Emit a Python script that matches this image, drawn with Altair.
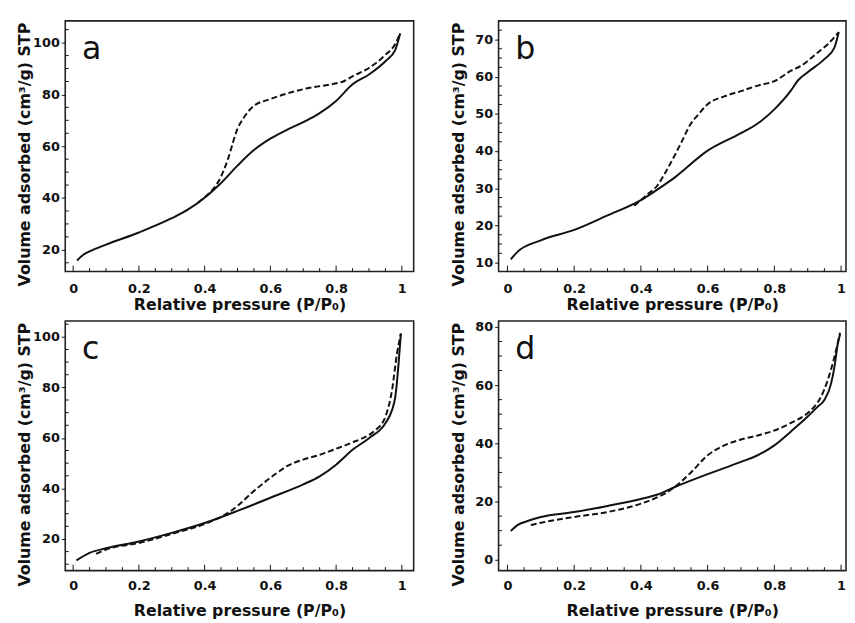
import altair as alt
import pandas as pd

# ---------------- data ----------------
letters = ["a", "b", "c", "d"]

a_ads_p = [0.012, 0.032, 0.05, 0.1, 0.2, 0.3, 0.35, 0.4, 0.45, 0.5, 0.55, 0.6, 0.65, 0.7, 0.75, 0.8, 0.85, 0.9, 0.95, 0.98, 0.995]
a_ads_v = [15.9, 18.2, 19.4, 22.0, 26.7, 32.2, 35.6, 40.1, 45.8, 52.5, 58.5, 62.9, 66.3, 69.3, 72.8, 77.5, 83.9, 87.7, 92.8, 97.2, 103.6]
a_des_p = [0.38, 0.4, 0.42, 0.45, 0.47, 0.5, 0.52, 0.55, 0.6, 0.7, 0.8, 0.82, 0.85, 0.9, 0.95, 0.98, 0.995]
a_des_v = [38.2, 40.3, 42.6, 48.3, 54.7, 66.7, 71.2, 75.6, 78.2, 82.0, 84.3, 84.9, 87.0, 90.2, 95.3, 99.5, 103.6]

b_ads_p = [0.01, 0.03, 0.1, 0.2, 0.3, 0.4, 0.45, 0.5, 0.6, 0.7, 0.75, 0.8, 0.85, 0.87, 0.9, 0.95, 0.98, 0.993]
b_ads_v = [10.9, 12.9, 16.0, 18.8, 22.7, 26.8, 29.7, 32.8, 40.1, 44.8, 47.4, 51.2, 56.3, 58.9, 61.2, 64.7, 67.8, 72.0]
b_des_p = [0.38, 0.4, 0.42, 0.45, 0.47, 0.5, 0.52, 0.55, 0.57, 0.6, 0.65, 0.7, 0.75, 0.8, 0.85, 0.88, 0.93, 0.96, 0.993]
b_des_v = [25.3, 26.8, 28.4, 30.8, 33.7, 38.6, 42.1, 47.4, 49.6, 52.6, 54.7, 56.1, 57.6, 58.8, 61.6, 62.9, 66.5, 68.7, 72.0]

c_ads_p = [0.01, 0.05, 0.1, 0.2, 0.3, 0.4, 0.5, 0.6, 0.7, 0.75, 0.8, 0.85, 0.9, 0.95, 0.97, 0.98, 0.99, 0.997]
c_ads_v = [11.5, 14.5, 16.3, 19.0, 22.4, 26.3, 31.1, 36.3, 41.6, 44.8, 49.4, 55.3, 59.9, 65.8, 71.0, 76.2, 89.3, 101.3]
c_des_p = [0.07, 0.1, 0.2, 0.3, 0.4, 0.47, 0.5, 0.55, 0.6, 0.62, 0.65, 0.7, 0.75, 0.8, 0.85, 0.9, 0.92, 0.95, 0.97, 0.985, 0.997]
c_des_v = [14.1, 15.8, 18.4, 22.0, 25.9, 30.2, 33.1, 39.0, 44.2, 46.1, 48.8, 51.4, 53.3, 55.7, 58.2, 61.2, 63.1, 68.4, 78.8, 93.2, 101.3]

d_ads_p = [0.01, 0.03, 0.06, 0.1, 0.2, 0.3, 0.4, 0.45, 0.5, 0.6, 0.7, 0.75, 0.8, 0.85, 0.9, 0.93, 0.95, 0.97, 0.98, 0.99, 0.997]
d_ads_v = [9.9, 11.9, 13.3, 14.7, 16.4, 18.5, 20.9, 22.4, 24.9, 29.4, 33.6, 35.9, 39.3, 44.1, 49.2, 52.6, 54.9, 60.5, 66.2, 74.1, 77.5]
d_des_p = [0.07, 0.1, 0.2, 0.3, 0.4, 0.45, 0.47, 0.5, 0.55, 0.6, 0.65, 0.7, 0.75, 0.8, 0.85, 0.9, 0.92, 0.94, 0.96, 0.98, 0.997]
d_des_v = [11.9, 12.7, 14.7, 16.4, 19.3, 21.5, 22.6, 24.9, 30.0, 35.9, 39.3, 41.3, 42.7, 44.4, 47.0, 50.4, 52.6, 56.0, 61.7, 69.6, 78.0]

x_major = [0, 0.2, 0.4, 0.6, 0.8, 1]
x_minor = [0.05, 0.1, 0.15, 0.25, 0.3, 0.35, 0.45, 0.5, 0.55, 0.65, 0.7, 0.75, 0.85, 0.9, 0.95]

a_y_major = [20, 40, 60, 80, 100]
a_y_minor = [15, 25, 30, 35, 45, 50, 55, 65, 70, 75, 85, 90, 95, 105]
b_y_major = [10, 20, 30, 40, 50, 60, 70]
b_y_minor = [12.5, 15, 17.5, 22.5, 25, 27.5, 32.5, 35, 37.5, 42.5, 45, 47.5, 52.5, 55, 57.5, 62.5, 65, 67.5, 72.5]
c_y_major = [20, 40, 60, 80, 100]
c_y_minor = [10, 15, 25, 30, 35, 45, 50, 55, 65, 70, 75, 85, 90, 95, 105]
d_y_major = [0, 20, 40, 60, 80]
d_y_minor = [5, 10, 15, 25, 30, 35, 45, 50, 55, 65, 70, 75]

X_TITLE = "Relative pressure (P/P\u2080)"
Y_TITLE = "Volume adsorbed (cm\u00b3/g) STP"
FONT = "DejaVu Sans"
INK = "#111111"


def panel(letter, ads_p, ads_v, des_p, des_v, xdom, ydom, ymaj, ymin, w, h, lpad, ty):
    xs = alt.Scale(domain=xdom, nice=False, zero=False)
    ys = alt.Scale(domain=ydom, nice=False, zero=False)
    xax = alt.Axis(values=x_major, format="~r", tickSize=0, domain=False, grid=False,
                   labelPadding=lpad, title=X_TITLE, titleY=ty, titleBaseline="alphabetic",
                   labelFont=FONT, labelFontWeight="bold", labelFontSize=13, labelColor=INK,
                   titleFont=FONT, titleFontWeight="bold", titleFontSize=16, titleColor=INK)
    yax = alt.Axis(values=ymaj, format="~r", tickSize=4, domain=False, grid=False,
                   labelPadding=2, title=Y_TITLE, titleX=-36, titleY=135,
                   titleBaseline="alphabetic", titleAngle=270,
                   tickColor=INK, tickWidth=1,
                   labelFont=FONT, labelFontWeight="bold", labelFontSize=13, labelColor=INK,
                   titleFont=FONT, titleFontWeight="bold", titleFontSize=16, titleColor=INK)
    X = alt.X("p:Q", scale=xs, axis=xax)
    Y = alt.Y("v:Q", scale=ys, axis=yax)

    ads = alt.Chart(pd.DataFrame({"p": ads_p, "v": ads_v})).mark_line(
        color=INK, strokeWidth=2, interpolate="monotone").encode(x=X, y=Y, order="p:Q")
    des = alt.Chart(pd.DataFrame({"p": des_p, "v": des_v})).mark_line(
        color=INK, strokeWidth=2, strokeDash=[6, 3], interpolate="monotone").encode(x=X, y=Y, order="p:Q")

    xmaj = alt.Chart(pd.DataFrame({"p": x_major})).mark_rule(color=INK, strokeWidth=1).encode(
        x=X, y=alt.value(h), y2=alt.value(h - 6))
    xmin = alt.Chart(pd.DataFrame({"p": x_minor})).mark_rule(color=INK, strokeWidth=1).encode(
        x=X, y=alt.value(h), y2=alt.value(h - 3.5))
    ymn = alt.Chart(pd.DataFrame({"v": ymin})).mark_rule(color=INK, strokeWidth=1).encode(
        y=Y, x=alt.value(0), x2=alt.value(3.5))
    lab = alt.Chart(pd.DataFrame({"label": [letter]})).mark_text(
        align="left", baseline="alphabetic", fontSize=32, font=FONT, color=INK).encode(
        x=alt.value(17), y=alt.value(39), text="label:N")

    return alt.layer(ymn, xmin, xmaj, ads, des, lab).properties(width=w, height=h)


pa = panel(letters[0], a_ads_p, a_ads_v, a_des_p, a_des_v, [-0.024, 1.036], [11.6, 108.4],
           a_y_major, a_y_minor, 353, 254, 11, 38)
pb = panel(letters[1], b_ads_p, b_ads_v, b_des_p, b_des_v, [-0.0266, 1.0148], [7.6, 75.0],
           b_y_major, b_y_minor, 352, 254, 11, 38)
pc = panel(letters[2], c_ads_p, c_ads_v, c_des_p, c_des_v, [-0.024, 1.036], [7.45, 106.3],
           c_y_major, c_y_minor, 353, 253, 9, 45)
pd_ = panel(letters[3], d_ads_p, d_ads_v, d_des_p, d_des_v, [-0.0266, 1.0148], [-3.74, 82.04],
            d_y_major, d_y_minor, 352, 253, 9, 45)

chart = alt.vconcat(
    alt.hconcat(pa, pb, spacing=35),
    alt.hconcat(pc, pd_, spacing=35),
    spacing=7,
).properties(
    padding={"left": 8, "top": 8, "right": 0, "bottom": 0},
    background="white",
).configure_view(
    stroke="#222222", strokeWidth=1.6
)

chart.save("out.html", embed_options={"renderer": "svg", "actions": False})
